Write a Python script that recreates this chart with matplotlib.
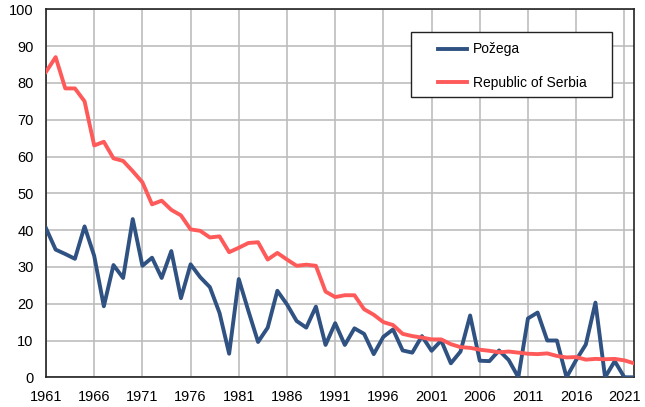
"""
Share of ... over time: Požega vs Republic of Serbia, 1961-2022
"""

from matplotlib import pyplot as plt
from matplotlib.patches import Rectangle
import numpy as np

plt.rcParams['font.family'] = ['Liberation Sans', 'DejaVu Sans']

years = np.arange(1961, 2023)

pozega = [40.5, 34.7, 33.5, 32.2, 41.0, 33.0, 19.3, 30.5, 27.0, 43.0,
          30.3, 32.5, 27.0, 34.3, 21.5, 30.7, 27.2, 24.5, 17.5, 6.4,
          26.7, 18.0, 9.6, 13.5, 23.5, 19.8, 15.3, 13.5, 19.2, 8.8,
          14.7, 8.8, 13.3, 11.8, 6.3, 11.0, 13.0, 7.3, 6.7, 11.2,
          7.2, 10.0, 3.8, 7.0, 16.8, 4.5, 4.4, 7.3, 4.7, 0.0,
          16.0, 17.6, 10.0, 10.0, 0.0, 4.7, 8.9, 20.3, 0.0, 4.4,
          0.0, 0.0]

serbia = [83.0, 87.0, 78.5, 78.5, 75.0, 63.0, 64.0, 59.5, 58.8, 56.0,
          53.0, 47.0, 48.0, 45.5, 44.0, 40.2, 39.8, 38.0, 38.3, 34.0,
          35.2, 36.5, 36.7, 32.0, 33.8, 32.0, 30.3, 30.6, 30.3, 23.3,
          21.8, 22.3, 22.3, 18.5, 17.0, 15.0, 14.2, 11.8, 11.2, 10.8,
          10.3, 10.3, 9.0, 8.2, 8.0, 7.5, 7.2, 6.8, 7.0, 6.7,
          6.4, 6.3, 6.5, 5.8, 5.4, 5.5, 4.8, 5.0, 4.9, 5.0,
          4.6, 3.8]

xticks = list(range(1961, 2022, 5))
yticks = list(range(0, 101, 10))

###############################################################################
fig = plt.figure(figsize=(6.45, 4.07), dpi=100)
ax = fig.add_axes([46 / 645, 1 - 377.3 / 407, 588 / 645, 368 / 407])

ax.plot(years, pozega, linewidth=2.8, color='#2f5282', label='Požega',
        solid_joinstyle='round', zorder=3)
ax.plot(years, serbia, linewidth=2.8, color='#ff5a5a',
        label='Republic of Serbia', solid_joinstyle='round', zorder=3)

ax.set_xlim(1961, 2022)
ax.set_ylim(0, 100)
ax.set_xticks(xticks)
ax.set_yticks(yticks)
ax.tick_params(length=0, labelsize=10.5, pad=9)
ax.grid(True, color='#bdbdbd', linewidth=1.2)
for s in ax.spines.values():
    s.set_color('#222222')
    s.set_linewidth(1.2)

# legend box drawn separately so the inner padding matches the original
ax.add_patch(Rectangle((0.620, 0.761), 0.342, 0.1765, transform=ax.transAxes,
                       facecolor='white', edgecolor='#222222', linewidth=1.0,
                       zorder=5))
leg = ax.legend(loc='upper left', bbox_to_anchor=(0.666, 0.910),
                fontsize=10, handlelength=2.1, labelspacing=1.38,
                borderpad=0, handletextpad=0.45, borderaxespad=0,
                frameon=False)
leg.set_zorder(6)

plt.savefig('out.png', dpi=100)
